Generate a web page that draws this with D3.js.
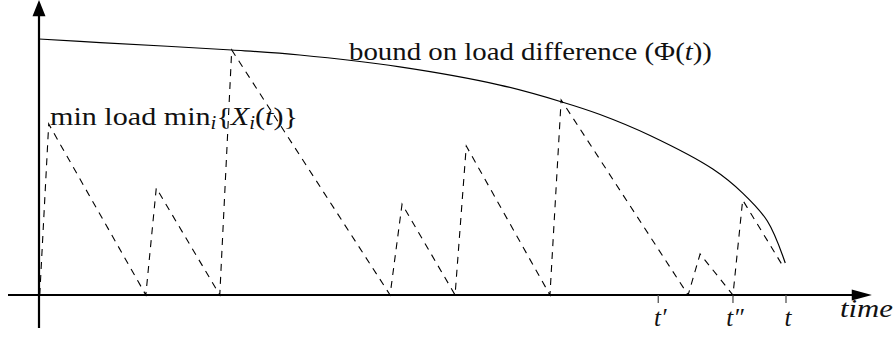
<!DOCTYPE html>
<html>
<head>
<meta charset="utf-8">
<script src="https://cdn.jsdelivr.net/npm/d3@7"></script>
<style>
  html, body { margin: 0; padding: 0; background: #fff; }
  svg { display: block; font-family: serif; }
</style>
</head>
<body>
<svg id="chart" width="896" height="339" font-family="serif"></svg>
<script>
// ---- data (time units 0..100, load units 0..100) ----
const boundT = [0, 8.2, 25.8, 34.9, 48.3, 61.7, 70.0, 75.1, 81.8, 90.2, 94.2, 97.5, 99.9];
const boundY = [100, 98.6, 95.7, 93.75, 89.1, 82.0, 75.4, 70.5, 62.3, 49.2, 39.8, 28.9, 12.5];

const minT = [0.1, 1.3, 14.3, 15.7, 24.2, 25.8, 47.0, 48.6, 55.7, 57.2, 68.4, 69.9, 86.9, 88.5, 92.9, 94.2, 99.5];
const minY = [0, 66.8, 0, 41.8, 0, 95.7, 0, 35.5, 0, 58.2, 0, 76.2, 0, 16.0, 0, 37.1, 11.7];

const tickValues = [82.9, 92.9, 100];
const tickLabels = ["t′", "t″", "t"];

const svg = d3.select("#chart");
const x = d3.scaleLinear().domain([0, 100]).range([39, 786]);
const y = d3.scaleLinear().domain([0, 100]).range([295, 39]);
const x0 = x(0), y0 = y(0);

// ---- labels ----
const b = svg.append("text").attr("x", 349).attr("y", 60)
  .attr("font-size", 26).attr("fill", "#111")
  .attr("textLength", 363).attr("lengthAdjust", "spacingAndGlyphs");
b.append("tspan").text("bound on load difference (Φ(");
b.append("tspan").attr("font-style", "italic").text("t");
b.append("tspan").text("))");

const m = svg.append("text").attr("x", 50).attr("y", 125)
  .attr("font-size", 26).attr("fill", "#111")
  .attr("textLength", 248).attr("lengthAdjust", "spacingAndGlyphs");
m.append("tspan").text("min load min");
m.append("tspan").attr("font-style", "italic").attr("font-size", 18).attr("dy", 4).text("i");
m.append("tspan").attr("dy", -4).text("{");
m.append("tspan").attr("font-style", "italic").text("X");
m.append("tspan").attr("font-style", "italic").attr("font-size", 18).attr("dy", 4).text("i");
m.append("tspan").attr("dy", -4).text("(");
m.append("tspan").attr("font-style", "italic").text("t");
m.append("tspan").text(")}");

svg.selectAll(".ticklabel").data(tickLabels).enter().append("text")
  .attr("class", "ticklabel")
  .attr("x", (d, i) => x(tickValues[i]) + 2)
  .attr("y", 326)
  .attr("text-anchor", "middle")
  .attr("font-style", "italic")
  .attr("font-size", 25)
  .attr("fill", "#111")
  .text(d => d);

svg.append("text")
  .attr("x", 840).attr("y", 317)
  .attr("font-style", "italic").attr("font-size", 25)
  .attr("textLength", 53).attr("lengthAdjust", "spacingAndGlyphs")
  .attr("fill", "#111")
  .text("time");

// ---- axes ----
svg.append("line")
  .attr("x1", x(-4.15)).attr("x2", x(109)).attr("y1", y0).attr("y2", y0)
  .attr("stroke", "#000").attr("stroke-width", 2.2);
svg.append("line")
  .attr("x1", x0).attr("x2", x0).attr("y1", y(-12.9)).attr("y2", y(109))
  .attr("stroke", "#000").attr("stroke-width", 2.2);
svg.append("path")
  .attr("d", `M${x0},${y(115.2)} L${x0 - 6.5},${y(108.9)} L${x0 + 6.5},${y(108.9)} Z`)
  .attr("fill", "#000");
svg.append("path")
  .attr("d", `M${x(111.5)},${y0} L${x(108.8)},${y0 - 5.5} L${x(108.8)},${y0 + 5.5} Z`)
  .attr("fill", "#000");

svg.selectAll(".tickmark").data(tickValues).enter().append("line")
  .attr("class", "tickmark")
  .attr("x1", d => x(d)).attr("x2", d => x(d))
  .attr("y1", y0).attr("y2", y0 + 8)
  .attr("stroke", "#555").attr("stroke-width", 1.3);

// ---- bound curve ----
const boundData = boundT.map((t, i) => [t, boundY[i]]);
svg.append("path")
  .datum(boundData)
  .attr("fill", "none").attr("stroke", "#000").attr("stroke-width", 1.2)
  .attr("d", d3.line().x(d => x(d[0])).y(d => y(d[1])).curve(d3.curveCatmullRom.alpha(0.5)));

// ---- min load dashed sawtooth ----
const minData = minT.map((t, i) => [t, minY[i]]);
svg.append("path")
  .datum(minData)
  .attr("fill", "none").attr("stroke", "#000").attr("stroke-width", 1.1)
  .attr("stroke-dasharray", "7,6")
  .attr("d", d3.line().x(d => x(d[0])).y(d => y(d[1])));
</script>
</body>
</html>
